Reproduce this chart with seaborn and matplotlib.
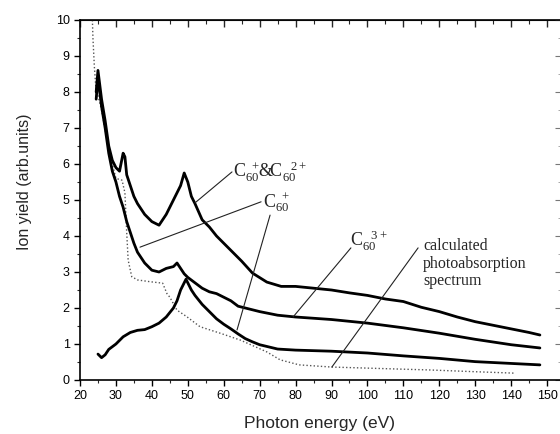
import numpy as np
import pandas as pd
import matplotlib
matplotlib.use("Agg")
import matplotlib.pyplot as plt
import seaborn as sns
from matplotlib.ticker import MultipleLocator

# ---- data ----
x_c60_12 = [24.5, 25, 25.5, 26, 27, 28, 29, 30, 31, 32, 32.5, 33, 34, 35, 36, 38, 40, 42, 44, 46, 48, 49,
            50, 51, 52, 54, 56, 58, 60, 62, 65, 68, 72, 76, 80, 85, 90, 95, 100, 105, 110, 115, 120, 125,
            130, 135, 140, 145, 148]
y_c60_12 = [8.0, 8.6, 8.2, 7.8, 7.2, 6.5, 6.1, 5.9, 5.8, 6.3, 6.2, 5.7, 5.4, 5.1, 4.9, 4.6, 4.4, 4.3, 4.6,
            5.0, 5.4, 5.75, 5.5, 5.1, 4.9, 4.45, 4.25, 4.0, 3.8, 3.6, 3.3, 2.97, 2.72, 2.6, 2.6, 2.55, 2.5,
            2.42, 2.35, 2.25, 2.18, 2.02, 1.9, 1.75, 1.62, 1.52, 1.42, 1.32, 1.25]

x_c60_1 = [24.5, 25, 25.5, 26, 27, 28, 29, 30, 31, 32, 33, 34, 35, 36, 37, 38, 40, 42, 44, 46, 47, 48, 49,
           50, 52, 54, 56, 58, 60, 62, 64, 66, 70, 75, 80, 90, 100, 110, 120, 130, 140, 148]
y_c60_1 = [7.8, 8.4, 8.0, 7.6, 7.0, 6.3, 5.8, 5.5, 5.1, 4.8, 4.4, 4.1, 3.8, 3.55, 3.4, 3.25, 3.05, 3.0,
           3.1, 3.15, 3.25, 3.1, 2.95, 2.85, 2.7, 2.55, 2.45, 2.4, 2.3, 2.2, 2.05, 2.0, 1.9, 1.8, 1.75,
           1.68, 1.58, 1.45, 1.3, 1.13, 0.98, 0.89]

x_c60_3 = [25, 26, 27, 28, 30, 32, 34, 36, 38, 40, 42, 44, 46, 47, 48, 49, 49.5, 50, 51, 52, 54, 56, 58,
           60, 62, 64, 66, 68, 70, 75, 80, 90, 100, 110, 120, 130, 140, 148]
y_c60_3 = [0.72, 0.62, 0.7, 0.85, 1.0, 1.2, 1.32, 1.38, 1.4, 1.48, 1.58, 1.75, 2.0, 2.2, 2.5, 2.7, 2.8,
           2.7, 2.5, 2.35, 2.1, 1.9, 1.7, 1.55, 1.42, 1.28, 1.15, 1.06, 0.98, 0.86, 0.83, 0.8, 0.75,
           0.67, 0.6, 0.51, 0.46, 0.42]

x_calc = [23.3, 23.6, 24, 24.5, 25, 26, 28, 30, 31.7, 32.5, 33, 33.4, 34.4, 36, 39.5, 43, 44.2, 45, 47,
          49.7, 53.4, 59, 64.6, 72, 75.7, 81, 90, 100, 110, 117, 130, 141]
y_calc = [10.5, 9.5, 8.7, 8.0, 7.9, 7.5, 6.4, 5.6, 5.55, 5.2, 4.1, 3.33, 2.87, 2.78, 2.73, 2.69, 2.4, 2.3,
          1.94, 1.76, 1.48, 1.3, 1.11, 0.78, 0.56, 0.42, 0.36, 0.33, 0.3, 0.28, 0.23, 0.19]

x_ticks = list(range(20, 151, 10))
y_ticks = list(range(0, 11))

# ---- styling ----
sns.set_style("ticks")
plt.rcParams["font.family"] = ["Liberation Sans", "DejaVu Sans"]

fig = plt.figure(figsize=(5.6, 4.34), dpi=100)
ax = fig.add_axes([80 / 560, 54 / 434, 481 / 560, 360 / 434])

sns.lineplot(x=x_calc, y=y_calc, sort=False, color="#555555", lw=1.0,
             linestyle=(0, (1, 1.6)), ax=ax, legend=False)
df_solid = pd.concat([
    pd.DataFrame({"x": x_c60_12, "y": y_c60_12, "s": "c12"}),
    pd.DataFrame({"x": x_c60_1, "y": y_c60_1, "s": "c1"}),
    pd.DataFrame({"x": x_c60_3, "y": y_c60_3, "s": "c3"}),
])
sns.lineplot(data=df_solid, x="x", y="y", units="s", estimator=None, sort=False,
             color="black", lw=2.0, ax=ax, legend=False)

ax.set_xlim(20, 20 + 481 / 3.593)
ax.set_ylim(0, 10)
ax.set_xticks(x_ticks)
ax.set_yticks(y_ticks)
ax.xaxis.set_minor_locator(MultipleLocator(5))
ax.yaxis.set_minor_locator(MultipleLocator(0.5))
ax.tick_params(which="major", direction="out", length=4, width=1, labelsize=9, colors="black")
ax.tick_params(which="minor", direction="out", length=2.5, width=0.8)
for sp in ax.spines.values():
    sp.set_linewidth(1.2)
    sp.set_color("black")

sx = ax.secondary_xaxis("top")
sx.set_xticks(x_ticks)
sx.xaxis.set_minor_locator(MultipleLocator(5))
sx.tick_params(which="major", direction="in", length=5, width=1, labeltop=False)
sx.tick_params(which="minor", direction="in", length=3, width=0.8)
sy = ax.secondary_yaxis("right")
sy.set_yticks(y_ticks)
sy.yaxis.set_minor_locator(MultipleLocator(0.5))
sy.tick_params(which="major", direction="in", length=4, width=0.8, labelright=False, colors="#777777")
sy.tick_params(which="minor", direction="in", length=2.5, width=0.6, colors="#999999")

ax.set_xlabel("Photon energy (eV)", fontsize=12.5)
ax.set_ylabel("Ion yield (arb.units)", fontsize=11.5)
ax.xaxis.set_label_coords(0.497, -0.1)
ax.yaxis.set_label_coords(-0.1, 0.55)

# annotations
lc = "#222222"
ax.plot([52.0, 62.3], [4.92, 5.78], color=lc, lw=0.8)
ax.plot([36.7, 70.4], [3.69, 4.95], color=lc, lw=0.8)
ax.plot([72.9, 63.7], [4.58, 1.39], color=lc, lw=0.8)
ax.plot([95.4, 79.3], [3.67, 1.75], color=lc, lw=0.8)
ax.plot([114.1, 90.1], [3.67, 0.36], color=lc, lw=0.8)

serif = ["Liberation Serif", "DejaVu Serif"]
ax.text(62.6, 5.62, r"$\mathregular{C_{60}^{\ +}\!&\!C_{60}^{\ \ 2+}}$", fontsize=13, ha="left",
        va="baseline", family=serif)
ax.text(70.9, 4.8, r"$\mathregular{C_{60}^{\ +}}$", fontsize=13, ha="left", va="baseline", family=serif)
ax.text(95.2, 3.72, r"$\mathregular{C_{60}^{\ \ 3+}}$", fontsize=13, ha="left", va="baseline", family=serif)
ax.text(115.5, 3.95, "calculated\nphotoabsorption\nspectrum", fontsize=11.5, ha="left", va="top",
        family=serif, linespacing=1.15)

fig.savefig("out.png", dpi=100)
